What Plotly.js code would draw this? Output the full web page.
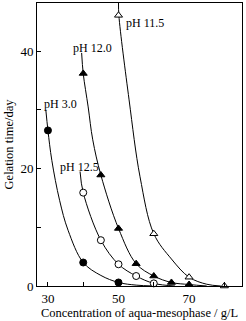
<!DOCTYPE html>
<html><head><meta charset="utf-8">
<script src="https://cdn.plot.ly/plotly-3.0.1.min.js"></script>
<style>html,body{margin:0;padding:0;background:#fff}#c{width:246px;height:321px}</style>
</head><body><div id="c"></div>
<script>
// Measured points
const ph30X = [30, 40, 50];
const ph30Y = [26.5, 4.0, 0.6];
const ph125X = [40, 45, 50, 55, 60];
const ph125Y = [15.9, 7.8, 3.7, 1.7, 0.45];
const ph120X = [40, 45, 50, 55, 60, 65, 70];
const ph120Y = [36.2, 18.9, 9.8, 3.8, 1.7, 0.6, 0.25];
const ph115X = [50, 60, 70, 80];
const ph115Y = [46.1, 8.9, 1.5, 0];

// Fitted curves
const c30X = [29.4, 30, 31.1, 33.3, 35.7, 40, 45, 50, 55, 60];
const c30Y = [30, 26.5, 21.4, 14.6, 9.5, 4.0, 1.8, 0.6, 0.15, 0];
const c125X = [39.1, 40, 45, 50, 55, 60, 66];
const c125Y = [19.5, 15.9, 7.8, 3.7, 1.7, 0.45, 0];
const c120X = [39.55, 40, 41.4, 42.7, 45, 50, 55, 60, 65, 70, 75];
const c120Y = [39.7, 36.2, 30.5, 24.9, 18.9, 9.8, 3.8, 1.7, 0.6, 0.25, 0];
const c115X = [50.0, 50.1, 53.0, 56.1, 60, 65, 70, 75, 79];
const c115Y = [48.2, 46.1, 31.7, 18.6, 8.9, 4.6, 1.5, 0.3, 0];

const labels = ["pH 3.0", "pH 12.5", "pH 12.0", "pH 11.5"];
const labelX = [28.3, 32.8, 36.5, 51.5];
const labelY = [31, 20.3, 40.5, 44.8];

const xTicks = [30, 40, 50, 60, 70, 80];
const xTickText = ["30", "", "50", "", "70", ""];
const yTicks = [0, 10, 20, 30, 40];
const yTickText = ["0", "", "20", "", "40"];

const font = "Liberation Serif, Times New Roman, serif";
function curve(x, y) {
  return {x: x, y: y, mode: "lines", type: "scatter", line: {color: "#000", width: 1, shape: "spline", smoothing: 1}, hoverinfo: "skip", showlegend: false};
}
function pts(x, y, sym, fill) {
  return {x: x, y: y, mode: "markers", type: "scatter", cliponaxis: false,
    marker: {symbol: sym, size: 7, color: fill, line: {color: "#000", width: 1}}, showlegend: false};
}
const data = [
  curve(c30X, c30Y), curve(c125X, c125Y), curve(c120X, c120Y), curve(c115X, c115Y),
  pts(ph30X, ph30Y, "circle", "#000"), pts(ph125X, ph125Y, "circle", "#fff"),
  pts(ph120X, ph120Y, "triangle-up", "#000"), pts(ph115X, ph115Y, "triangle-up", "#fff")
];
const annotations = labels.map((t, i) => ({x: labelX[i], y: labelY[i], text: t, showarrow: false, xanchor: "left", yanchor: "middle", font: {family: font, size: 12, color: "#000"}}));
const layout = {
  width: 246, height: 321,
  margin: {l: 37, r: 4, t: 3, b: 35},
  paper_bgcolor: "#fff", plot_bgcolor: "#fff",
  font: {family: font, color: "#000", size: 13},
  xaxis: {range: [26.9, 85], tickvals: xTicks, ticktext: xTickText, ticks: "inside", ticklen: 4, tickcolor: "#000",
    showline: true, mirror: true, linecolor: "#000", linewidth: 1, showgrid: false, zeroline: false,
    tickfont: {family: font, size: 13}, title: {text: "Concentration of aqua-mesophase / g/L", font: {family: font, size: 12.5}, standoff: 2}},
  yaxis: {range: [0, 48.2], tickvals: yTicks, ticktext: yTickText, ticks: "inside", ticklen: 4, tickcolor: "#000",
    showline: true, mirror: true, linecolor: "#000", linewidth: 1, showgrid: false, zeroline: false,
    tickfont: {family: font, size: 13}, title: {text: "Gelation time/day", font: {family: font, size: 12.5}, standoff: 4}},
  annotations: annotations
};
Plotly.newPlot("c", data, layout, {staticPlot: true, displayModeBar: false});
</script></body></html>
